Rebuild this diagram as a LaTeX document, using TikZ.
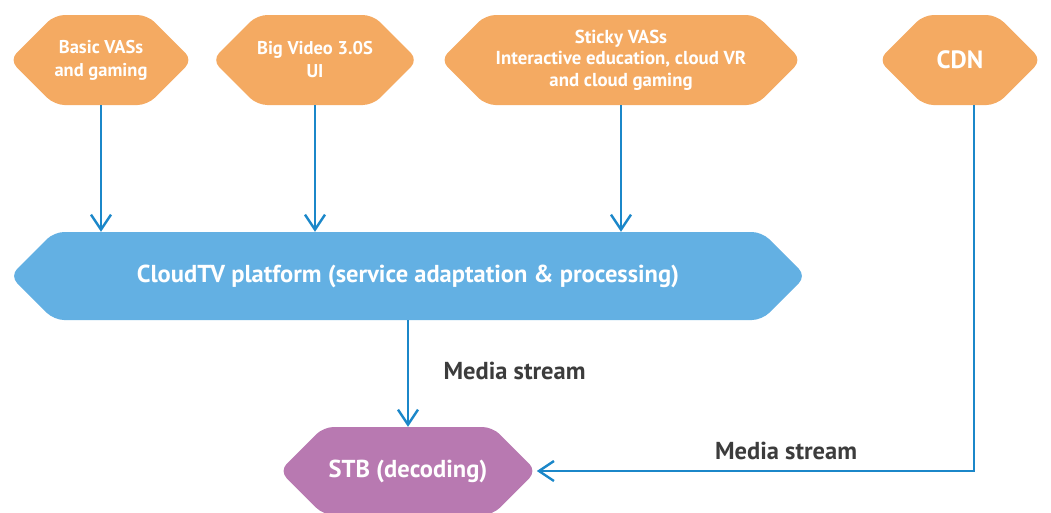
\documentclass[tikz,border=0pt]{standalone}
\usepackage{fontspec}
\setmainfont{PT Sans}
\usetikzlibrary{shapes.symbols,arrows.meta}
\definecolor{hexorange}{HTML}{F4AA62}
\definecolor{hexblue}{HTML}{63B0E3}
\definecolor{hexpurple}{HTML}{B879B1}
\definecolor{flowblue}{HTML}{1B87C9}
\definecolor{labelgray}{HTML}{3C3C3C}
\begin{document}
\begin{tikzpicture}[x=1pt,y=-1pt,
  hexbox/.style={shape=signal,signal to=west and east,signal pointer angle=90,
    rounded corners=10pt,draw=none,text=white,align=center,inner sep=0pt,
    font=\bfseries\fontsize{18.5}{23}\selectfont},
  flow/.style={flowblue,line width=2.4pt,-{Straight Barb[length=15pt,width=20pt,line width=2.4pt]}},
  streamlabel/.style={text=labelgray,font=\bfseries\fontsize{24.5}{28}\selectfont}]
\useasboundingbox (0,0) rectangle (1051,512);
% services
\node[hexbox,fill=hexorange,minimum width=183pt,minimum height=90pt] (basic) at (101,60) {Basic VASs\\and gaming};
\node[hexbox,fill=hexorange,minimum width=186pt,minimum height=90pt] (bigvideo) at (315,60) {Big Video 3.0S\\UI};
\node[hexbox,fill=hexorange,minimum width=361pt,minimum height=90pt,
  font=\bfseries\fontsize{18.8}{21.5}\selectfont] (sticky) at (621,60) {Sticky VASs\\Interactive education, cloud VR\\and cloud gaming};
\node[hexbox,fill=hexorange,minimum width=163pt,minimum height=90pt,
  font=\bfseries\fontsize{25}{28}\selectfont] (cdn) at (960,60) {CDN};
% platform and terminal
\node[hexbox,fill=hexblue,minimum width=796pt,minimum height=88pt,
  font=\bfseries\fontsize{24.5}{28}\selectfont] (cloudtv) at (408,276) {CloudTV platform (service adaptation \& processing)};
\node[hexbox,fill=hexpurple,minimum width=257pt,minimum height=88pt,
  font=\bfseries\fontsize{24.5}{28}\selectfont] (stb) at (408,471) {STB (decoding)};
% flows
\draw[flow] (basic.south) -- (basic.south |- cloudtv.north);
\draw[flow] (bigvideo.south) -- (bigvideo.south |- cloudtv.north);
\draw[flow] (sticky.south) -- (sticky.south |- cloudtv.north);
\draw[flow] (cloudtv.south) -- (stb.north);
\draw[flow] ([xshift=14pt]cdn.south) |- (stb.east);
\node[streamlabel,anchor=west] (ms1) at (440,371) {Media stream};
\node[streamlabel] (ms2) at (786,451) {Media stream};
\end{tikzpicture}
\end{document}
